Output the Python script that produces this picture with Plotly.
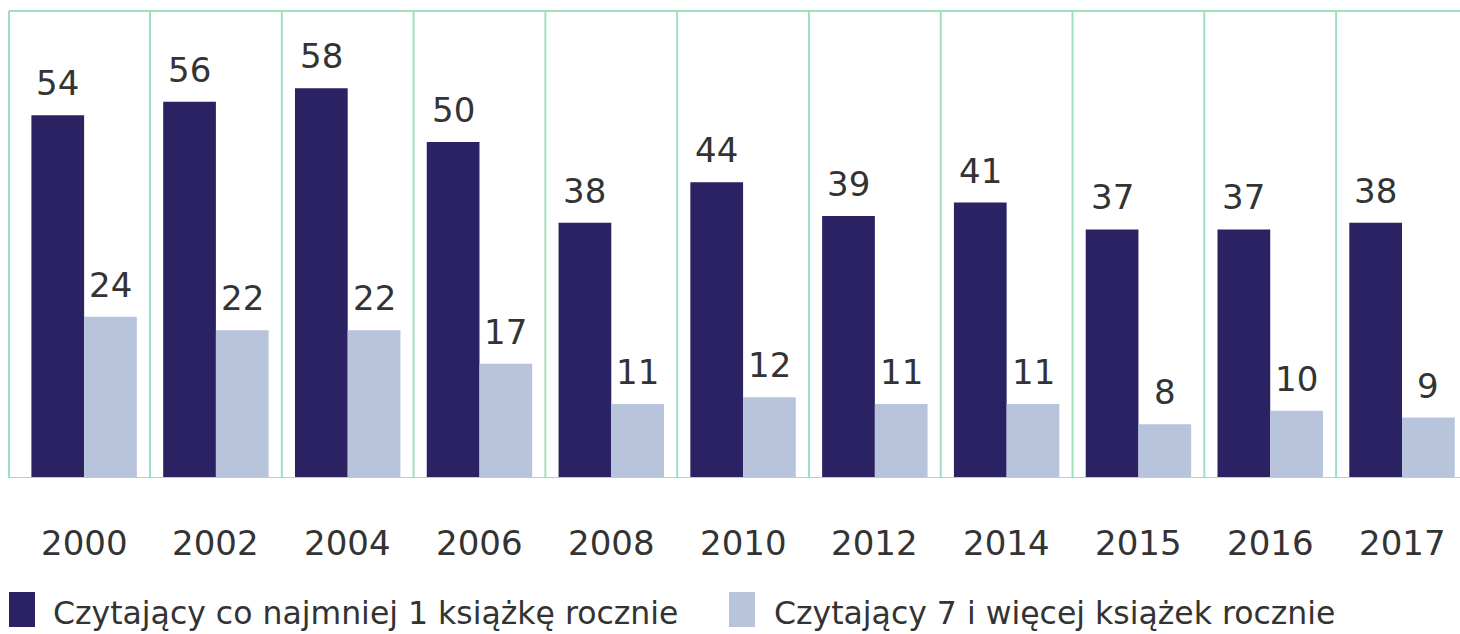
import plotly.graph_objects as go

years = ["2000", "2002", "2004", "2006", "2008", "2010", "2012", "2014", "2015", "2016", "2017"]
at_least_one = [54, 56, 58, 50, 38, 44, 39, 41, 37, 37, 38]
seven_plus = [24, 22, 22, 17, 11, 12, 11, 11, 8, 10, 9]
series_names = ["Czytający co najmniej 1 książkę rocznie", "Czytający 7 i więcej książek rocznie"]

DARK = "#2a2262"
LIGHT = "#b8c3dc"
GRID = "#9edfbc"
TEXT = "#333333"
FONT = "DejaVu Sans"

xs = list(range(len(years)))
fig = go.Figure()
fig.add_trace(go.Bar(x=xs, y=at_least_one, name=series_names[0], marker=dict(color=DARK, line_width=0)))
fig.add_trace(go.Bar(x=xs, y=seven_plus, name=series_names[1], marker=dict(color=LIGHT, line_width=0)))

annotations = []
off = 0.2
for i, (a, b) in enumerate(zip(at_least_one, seven_plus)):
    annotations.append(dict(x=i - off, y=a, xref="x", yref="y", text=str(a), showarrow=False,
                            yanchor="bottom", yshift=10, font=dict(size=34, color=TEXT, family=FONT)))
    annotations.append(dict(x=i + off, y=b, xref="x", yref="y", text=str(b), showarrow=False,
                            yanchor="bottom", yshift=10, font=dict(size=34, color=TEXT, family=FONT)))
    annotations.append(dict(x=i, y=0, xref="x", yref="y", text=years[i], showarrow=False,
                            yanchor="middle", yshift=-65, font=dict(size=34, color=TEXT, family=FONT)))

shapes = []
for i in range(len(years) - 1):
    shapes.append(dict(type="line", xref="x", yref="paper", x0=i + 0.5, x1=i + 0.5, y0=0, y1=1,
                       line=dict(color=GRID, width=2), layer="below"))
shapes.append(dict(type="line", xref="paper", yref="paper", x0=0, x1=0, y0=0, y1=1,
                   line=dict(color=GRID, width=2)))
shapes.append(dict(type="line", xref="paper", yref="paper", x0=0, x1=1, y0=1, y1=1,
                   line=dict(color=GRID, width=2)))
shapes.append(dict(type="line", xref="paper", yref="y", x0=0, x1=1, y0=0, y1=0,
                   line=dict(color=GRID, width=2)))

# manual legend (paper coords relative to plot area)
W, H = 1460, 634
ml, mt, mb = 9, 11, 156
pw, ph = W - ml, H - mt - mb
def px(xpix):
    return (xpix - ml) / pw
def py(ypix):
    return (H - mb - ypix) / ph

legend_items = [(9, 35, 51, series_names[0], DARK), (729, 755, 772, series_names[1], LIGHT)]
for x0, x1, tx, label, col in legend_items:
    shapes.append(dict(type="rect", xref="paper", yref="paper", x0=px(x0), x1=px(x1),
                       y0=py(627), y1=py(592), fillcolor=col, line_width=0))
    annotations.append(dict(x=px(tx), y=py(613), xref="paper", yref="paper", text=label, showarrow=False,
                            xanchor="left", yanchor="middle", font=dict(size=31.5, color=TEXT, family=FONT)))

fig.update_layout(
    width=W, height=H,
    margin=dict(l=ml, r=0, t=mt, b=mb),
    paper_bgcolor="white", plot_bgcolor="white",
    barmode="group", bargap=0.2, bargroupgap=0,
    showlegend=False,
    xaxis=dict(range=[-0.57, 10.44], showgrid=False, zeroline=False, showticklabels=False, showline=False),
    yaxis=dict(range=[0, 69.5], showgrid=False, zeroline=False, showticklabels=False, showline=False),
    annotations=annotations, shapes=shapes,
)
fig.write_html("out.html")
